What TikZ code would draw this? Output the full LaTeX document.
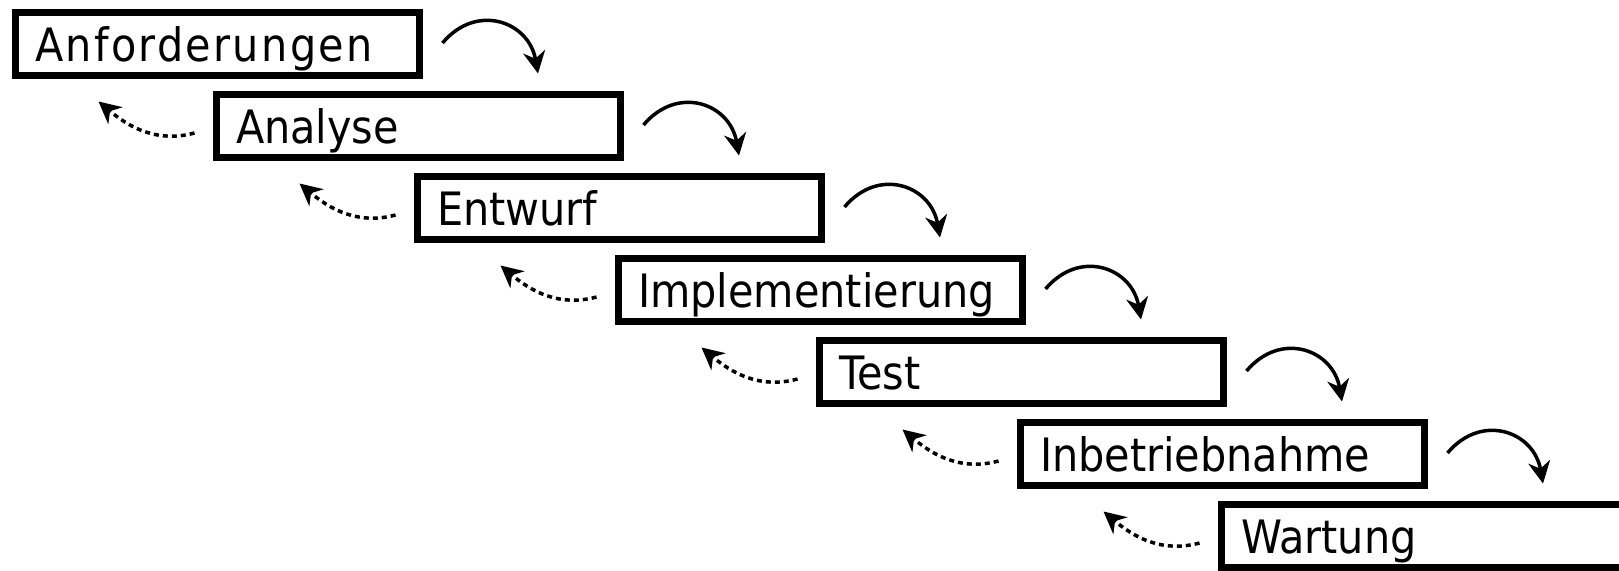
\documentclass[tikz,border=0pt]{standalone}
\usepackage{fontspec}
\setmainfont{DejaVu Sans}[FakeStretch=0.9]
\usetikzlibrary{arrows.meta}
\tikzset{
  phase/.style={draw, line width=7pt, rectangle, minimum width=404pt, minimum height=63pt,
    text width=365pt, align=left, inner xsep=19.5pt, inner ysep=0pt,
    text height=37pt, text depth=3pt, font=\fontsize{46}{55}\selectfont},
  fwd/.style={line width=3.5pt, -{Stealth[length=22pt,width=22pt,inset=7pt]}},
  bwd/.style={fwd, dash pattern=on 5pt off 4pt}
}
\begin{document}
\begin{tikzpicture}[x=1pt,y=1pt]
        \useasboundingbox (0,0) rectangle (1619,-570);
        \node[phase, font=\fontsize{46}{55}\selectfont\addfontfeatures{LetterSpace=5}] (anf) at (217.5,-44) {Anforderungen};
        \node[phase] (ana) at (418.5,-126) {Analyse};
        \node[phase] (ent) at (619.5,-208) {Entwurf};
        \node[phase] (imp) at (820.5,-290) {Implementierung};
        \node[phase] (tst) at (1021.5,-372) {Test};
        \node[phase] (inb) at (1222.5,-454) {Inbetriebnahme};
        \node[phase] (war) at (1423.5,-536) {Wartung};
        % weiter zur naechsten Phase
        \draw[fwd] ([shift={(19.5,1)}]anf.east) to[out=50,in=100,looseness=1.35] ([shift={(119.5,17.5)}]ana.north);
        \draw[fwd] ([shift={(19.5,1)}]ana.east) to[out=50,in=100,looseness=1.35] ([shift={(119.5,17.5)}]ent.north);
        \draw[fwd] ([shift={(19.5,1)}]ent.east) to[out=50,in=100,looseness=1.35] ([shift={(119.5,17.5)}]imp.north);
        \draw[fwd] ([shift={(19.5,1)}]imp.east) to[out=50,in=100,looseness=1.35] ([shift={(119.5,17.5)}]tst.north);
        \draw[fwd] ([shift={(19.5,1)}]tst.east) to[out=50,in=100,looseness=1.35] ([shift={(119.5,17.5)}]inb.north);
        \draw[fwd] ([shift={(19.5,1)}]inb.east) to[out=50,in=100,looseness=1.35] ([shift={(119.5,17.5)}]war.north);
        % zurueck zur vorigen Phase
        \draw[bwd] ([shift={(-18.5,-7)}]ana.west) to[out=195,in=-40] ([shift={(86.5,-22.5)}]anf.south west);
        \draw[bwd] ([shift={(-18.5,-7)}]ent.west) to[out=195,in=-40] ([shift={(86.5,-22.5)}]ana.south west);
        \draw[bwd] ([shift={(-18.5,-7)}]imp.west) to[out=195,in=-40] ([shift={(86.5,-22.5)}]ent.south west);
        \draw[bwd] ([shift={(-18.5,-7)}]tst.west) to[out=195,in=-40] ([shift={(86.5,-22.5)}]imp.south west);
        \draw[bwd] ([shift={(-18.5,-7)}]inb.west) to[out=195,in=-40] ([shift={(86.5,-22.5)}]tst.south west);
        \draw[bwd] ([shift={(-18.5,-7)}]war.west) to[out=195,in=-40] ([shift={(86.5,-22.5)}]inb.south west);
\end{tikzpicture}
\end{document}
